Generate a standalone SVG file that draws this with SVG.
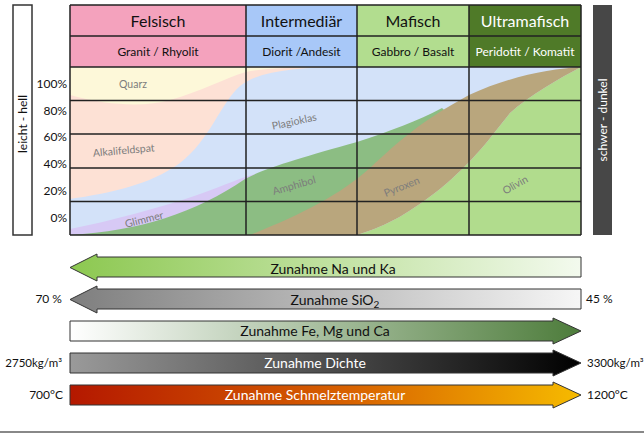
<svg xmlns="http://www.w3.org/2000/svg" width="644" height="433" viewBox="0 0 644 433">
<style>
text{font-family:"Lato","Liberation Sans",sans-serif;fill:#111}
.h1{font-size:16px;text-anchor:middle}
.h2{font-size:12px;text-anchor:middle}
.w{fill:#fff}
.pct{font-size:12px;text-anchor:end}
.lab{font-size:10.5px;fill:#7c7c7c;text-anchor:middle}
.arr{font-size:14px;text-anchor:middle}
.side{font-size:12px}
.sm{font-size:11.5px}
.grid{stroke:#222;stroke-width:1.5;fill:none}
.ab{stroke:#333;stroke-width:1}
</style>
<defs>
<linearGradient id="gNa" x1="0" x2="1" y1="0" y2="0"><stop offset="0" stop-color="#8cc850"/><stop offset="1" stop-color="#f3faee"/></linearGradient>
<linearGradient id="gSi" x1="0" x2="1" y1="0" y2="0"><stop offset="0" stop-color="#7e7e7e"/><stop offset="1" stop-color="#f6f6f6"/></linearGradient>
<linearGradient id="gFe" x1="0" x2="1" y1="0" y2="0"><stop offset="0" stop-color="#ffffff"/><stop offset="1" stop-color="#4d7c3b"/></linearGradient>
<linearGradient id="gDi" x1="0" x2="1" y1="0" y2="0"><stop offset="0" stop-color="#9a9a9a"/><stop offset="1" stop-color="#000000"/></linearGradient>
<linearGradient id="gSc" x1="0" x2="1" y1="0" y2="0"><stop offset="0" stop-color="#b41800"/><stop offset="0.55" stop-color="#d86200"/><stop offset="1" stop-color="#f6bb00"/></linearGradient>
</defs>
<rect width="644" height="433" fill="#fff"/>

<g id="chart">
<rect x="70" y="67" width="511" height="168" fill="#d3e2f9"/>
<path d="M70,67 L335,67 C300,68 260,70 240,86 C220,104 210,140 180,163 C150,185 110,193 70,199 Z" fill="#fde1d5"/>
<path d="M70,67 L325,67 C290,68 262,68 246,72 C225,78 200,92 170,100 C145,107 110,106 70,95 Z" fill="#fdf8d9"/>
<path d="M70,229 C110,221 160,208 200,194 C225,185 240,178 255,174 L255,235 L70,235 Z" fill="#d7c9f5"/>
<path d="M70,235 C140,231 195,213 245,179 C265,168 300,158 357,142 C390,131 418,121 442,108 L460,125 L350,235 Z" fill="#8cbd83"/>
<path d="M581,67 C560,78 530,95 510,113 C490,138 475,160 440,189 C410,212 390,225 357,235 L581,235 Z" fill="#b1dc8d"/>
<path d="M250,235 C300,215 340,195 370,168 C400,140 420,122 469,95 C510,76 550,69 581,67 C560,78 530,95 510,113 C490,138 475,160 440,189 C410,212 390,225 357,235 Z" fill="#b9a67d"/>
<text class="lab" x="133" y="88">Quarz</text>
<text class="lab" transform="translate(124,154) rotate(-5)">Alkalifeldspat</text>
<text class="lab" transform="translate(145,223) rotate(-14)">Glimmer</text>
<text class="lab" transform="translate(295,125) rotate(-12)">Plagioklas</text>
<text class="lab" transform="translate(295,189) rotate(-16)">Amphibol</text>
<text class="lab" transform="translate(403,190) rotate(-22)">Pyroxen</text>
<text class="lab" transform="translate(517,188) rotate(-30)">Olivin</text>
</g>

<g id="felsisch">
<rect x="70" y="5" width="176" height="62" fill="#f4a2bd"/>
<text class="h1" x="158" y="27">Felsisch</text>
<text class="h2" x="158" y="56">Granit / Rhyolit</text>
</g>
<g id="intermediaer">
<rect x="246" y="5" width="111" height="62" fill="#a8c8f8"/>
<text class="h1" x="301.5" y="27">Intermediär</text>
<text class="h2" x="301.5" y="56">Diorit /Andesit</text>
</g>
<g id="mafisch">
<rect x="357" y="5" width="112" height="62" fill="#b2dd8f"/>
<text class="h1" x="413" y="27">Mafisch</text>
<text class="h2" x="413" y="56">Gabbro / Basalt</text>
</g>
<g id="ultramafisch">
<rect x="469" y="5" width="112" height="62" fill="#4f7a28"/>
<text class="h1 w" x="525" y="27">Ultramafisch</text>
<text class="h2 w" x="525" y="56">Peridotit / Komatit</text>
</g>

<g id="grid" class="grid">
<path d="M70,5 H581 M70,36 H581 M70,67 H581 M70,100.5 H581 M70,134 H581 M70,168 H581 M70,201.5 H581 M70,235 H581"/>
<path d="M70,5 V235 M246,5 V235 M357,5 V235 M469,5 V235 M581,5 V235"/>
</g>

<g id="percent">
<text class="pct" x="67" y="88">100%</text>
<text class="pct" x="67" y="115">80%</text>
<text class="pct" x="67" y="141">60%</text>
<text class="pct" x="67" y="168">40%</text>
<text class="pct" x="67" y="195">20%</text>
<text class="pct" x="67" y="221.5">0%</text>
</g>

<g id="leicht">
<rect x="13" y="5" width="19" height="230" fill="#fff" stroke="#333" stroke-width="1.5"/>
<text class="side" text-anchor="middle" transform="translate(27,124) rotate(-90)">leicht - hell</text>
</g>
<g id="schwer">
<rect x="593" y="5" width="19" height="230" fill="#474747"/>
<text class="side w" text-anchor="middle" transform="translate(607,120) rotate(-90)">schwer - dunkel</text>
</g>

<g id="arrows">
<g id="arrow-na">
<polygon class="ab" points="581,257 97,257 97,254 70,267.5 97,281 97,277 581,277" fill="url(#gNa)"/>
<text class="arr" x="333" y="274">Zunahme Na und Ka</text>
</g>
<g id="arrow-sio2">
<polygon class="ab" points="581,289 97,289 97,286 70,299.5 97,313 97,309 581,309" fill="url(#gSi)"/>
<text class="arr" x="335" y="305">Zunahme SiO<tspan font-size="10" dy="3">2</tspan></text>
<text class="side" x="62" y="303" text-anchor="end">70 %</text>
<text class="side" x="586" y="303">45 %</text>
</g>
<g id="arrow-fe">
<polygon class="ab" points="70,321 553,321 553,318 581,331 553,344 553,341 70,341" fill="url(#gFe)"/>
<text class="arr" x="315" y="336">Zunahme Fe, Mg und Ca</text>
</g>
<g id="arrow-dichte">
<polygon class="ab" points="70,353 553,353 553,350 581,363 553,376 553,373 70,373" fill="url(#gDi)"/>
<text class="arr w" x="315" y="368">Zunahme Dichte</text>
<text class="side sm" x="62" y="367" text-anchor="end">2750kg/m³</text>
<text class="side sm" x="587" y="367">3300kg/m³</text>
</g>
<g id="arrow-schmelz">
<polygon class="ab" points="70,385 553,385 553,382 581,395 553,408 553,405 70,405" fill="url(#gSc)"/>
<text class="arr w" x="315" y="400">Zunahme Schmelztemperatur</text>
<text class="side" x="63" y="399" text-anchor="end">700°C</text>
<text class="side" x="587" y="399">1200°C</text>
</g>
</g>

<line x1="0" y1="432" x2="644" y2="432" stroke="#888" stroke-width="2"/>
</svg>
